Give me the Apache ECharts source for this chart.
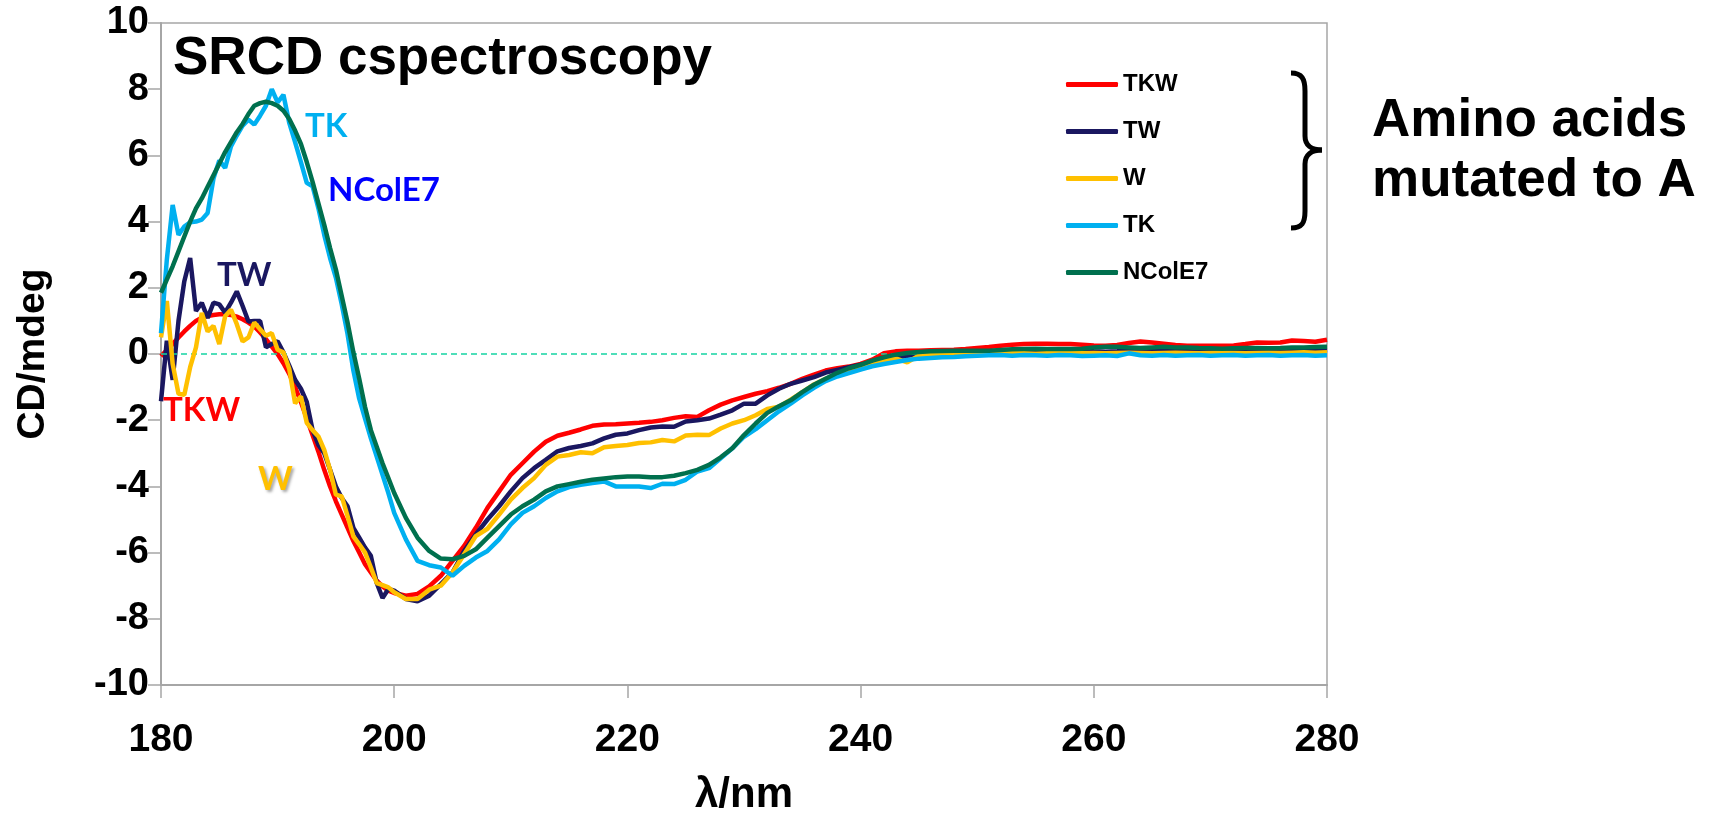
<!DOCTYPE html>
<html>
<head>
<meta charset="utf-8">
<script src="https://cdn.jsdelivr.net/npm/echarts@6/dist/echarts.min.js"></script>
<style>
html,body{margin:0;padding:0;background:#fff;}
#chart{width:1710px;height:813px;}
</style>
</head>
<body>
<div id="chart"></div>
<script>
// Wavelengths (nm): 0.5 nm steps 180-200, 1 nm steps 201-280
const wavelengths = [
  180,180.5,181,181.5,182,182.5,183,183.5,184,184.5,185,185.5,186,186.5,187,187.5,188,188.5,189,189.5,
  190,190.5,191,191.5,192,192.5,193,193.5,194,194.5,195,195.5,196,196.5,197,197.5,198,198.5,199,199.5,200,
  201,202,203,204,205,206,207,208,209,210,211,212,213,214,215,216,217,218,219,220,
  221,222,223,224,225,226,227,228,229,230,231,232,233,234,235,236,237,238,239,240,
  241,242,243,244,245,246,247,248,249,250,251,252,253,254,255,256,257,258,259,260,
  261,262,263,264,265,266,267,268,269,270,271,272,273,274,275,276,277,278,279,280
];

const seriesNames = ['TKW', 'TW', 'W', 'TK', 'NColE7'];

const tkwValues = [
  -0.07,0.12,0.3,0.5,0.68,0.85,1.0,1.1,1.15,1.18,1.2,1.2,1.18,1.13,1.05,0.95,0.83,0.65,0.45,0.22,
  0.0,-0.28,-0.6,-1.0,-1.45,-1.95,-2.45,-2.95,-3.5,-4.0,-4.45,-4.85,-5.25,-5.65,-6.0,-6.35,-6.6,-6.85,-7.02,-7.15,-7.22,
  -7.3,-7.25,-7.02,-6.7,-6.25,-5.8,-5.25,-4.65,-4.15,-3.65,
  -3.3,-2.95,-2.65,-2.47,-2.38,-2.28,-2.17,-2.13,-2.12,-2.1,
  -2.08,-2.05,-2.0,-1.93,-1.88,-1.9,-1.7,-1.53,-1.4,-1.3,
  -1.2,-1.12,-1.02,-0.9,-0.75,-0.62,-0.5,-0.43,-0.38,-0.3,
  -0.17,0.02,0.08,0.1,0.1,0.11,0.12,0.13,0.15,0.18,
  0.21,0.25,0.28,0.3,0.31,0.31,0.3,0.3,0.28,0.26,
  0.25,0.27,0.33,0.38,0.35,0.31,0.27,0.25,0.25,0.25,
  0.25,0.26,0.3,0.35,0.34,0.35,0.41,0.39,0.37,0.43
];

const twValues = [
  -1.43,0.4,-0.78,1.0,2.2,2.9,1.3,1.55,1.09,1.55,1.5,1.25,1.55,1.89,1.45,0.98,1.0,1.0,0.2,0.3,
  0.38,0.05,-0.35,-0.78,-1.05,-1.45,-2.3,-2.75,-3.0,-3.5,-4.0,-4.35,-4.6,-5.25,-5.55,-5.85,-6.1,-6.92,-7.37,-7.1,-7.15,
  -7.4,-7.47,-7.3,-6.95,-6.6,-5.95,-5.45,-5.0,-4.6,-4.15,
  -3.75,-3.45,-3.2,-2.94,-2.84,-2.78,-2.7,-2.55,-2.44,-2.4,
  -2.3,-2.22,-2.19,-2.2,-2.04,-2.0,-1.95,-1.83,-1.7,-1.5,
  -1.5,-1.25,-1.05,-0.9,-0.8,-0.7,-0.56,-0.48,-0.4,-0.32,
  -0.27,-0.2,-0.13,-0.05,0.0,0.02,0.05,0.06,0.06,0.07,
  0.07,0.08,0.08,0.1,0.09,0.08,0.08,0.09,0.1,0.08,
  0.07,0.08,0.1,0.12,0.1,0.09,0.08,0.1,0.1,0.09,
  0.08,0.09,0.1,0.11,0.1,0.1,0.12,0.11,0.1,0.12
];

const wValues = [
  0.5,1.6,-0.3,-1.2,-1.23,-0.4,0.2,1.24,0.68,0.85,0.3,1.14,1.34,0.9,0.38,0.5,0.95,0.75,0.55,0.63,
  0.13,0.05,-0.45,-1.49,-1.28,-2.08,-2.3,-2.49,-2.9,-3.5,-4.25,-4.3,-4.9,-5.51,-5.75,-6.0,-6.45,-6.92,-6.98,-7.05,-7.2,
  -7.4,-7.4,-7.12,-7.0,-6.6,-6.05,-5.5,-5.28,-4.85,-4.4,
  -4.05,-3.75,-3.35,-3.1,-3.05,-2.97,-3.0,-2.82,-2.78,-2.75,
  -2.69,-2.67,-2.6,-2.64,-2.46,-2.44,-2.45,-2.25,-2.1,-2.0,
  -1.85,-1.66,-1.59,-1.38,-1.15,-0.92,-0.75,-0.65,-0.55,-0.45,
  -0.33,-0.2,-0.13,-0.25,-0.05,-0.02,0.0,0.01,0.02,0.02,
  0.01,0.02,0.03,0.02,0.01,0.02,0.03,0.02,0.02,0.03,
  0.02,0.03,0.04,0.03,0.02,0.03,0.04,0.03,0.02,0.03,
  0.04,0.03,0.02,0.03,0.04,0.03,0.04,0.05,0.04,0.05
];

const tkValues = [
  0.63,2.85,4.5,3.6,3.85,3.98,4.0,4.06,4.26,5.3,5.85,5.62,6.27,6.6,6.9,7.08,6.93,7.2,7.5,8.0,
  7.6,7.83,6.98,6.4,5.8,5.17,5.07,4.4,3.6,2.9,2.3,1.5,0.6,-0.5,-1.35,-1.95,-2.55,-3.1,-3.65,-4.2,-4.8,
  -5.6,-6.25,-6.38,-6.45,-6.7,-6.4,-6.15,-5.95,-5.6,-5.15,
  -4.8,-4.6,-4.35,-4.15,-4.02,-3.95,-3.9,-3.85,-4.0,-4.0,
  -4.0,-4.05,-3.92,-3.93,-3.8,-3.55,-3.45,-3.15,-2.85,-2.5,
  -2.27,-2.0,-1.73,-1.5,-1.25,-1.02,-0.82,-0.68,-0.58,-0.47,
  -0.37,-0.3,-0.24,-0.18,-0.14,-0.12,-0.1,-0.09,-0.07,-0.05,
  -0.04,-0.03,-0.05,-0.03,-0.04,-0.05,-0.03,-0.04,-0.06,-0.05,
  -0.04,-0.06,0.02,-0.04,-0.05,-0.03,-0.05,-0.04,-0.03,-0.05,
  -0.04,-0.03,-0.05,-0.04,-0.03,-0.05,-0.04,-0.03,-0.05,-0.04
];

const ncole7Values = [
  1.85,2.25,2.65,3.1,3.55,4.0,4.4,4.7,5.05,5.4,5.75,6.1,6.4,6.7,6.95,7.25,7.5,7.58,7.62,7.58,
  7.5,7.35,7.1,6.75,6.35,5.8,5.2,4.55,3.9,3.2,2.55,1.75,0.95,0.05,-0.75,-1.6,-2.3,-2.8,-3.3,-3.75,-4.2,
  -4.95,-5.55,-5.95,-6.18,-6.2,-6.1,-5.9,-5.55,-5.2,-4.85,
  -4.6,-4.4,-4.15,-4.0,-3.93,-3.86,-3.8,-3.76,-3.72,-3.7,
  -3.7,-3.72,-3.72,-3.68,-3.6,-3.5,-3.35,-3.12,-2.85,-2.45,
  -2.1,-1.78,-1.58,-1.4,-1.15,-0.93,-0.75,-0.57,-0.43,-0.33,
  -0.2,-0.1,-0.02,0.03,0.06,0.08,0.09,0.1,0.1,0.1,
  0.1,0.12,0.14,0.15,0.16,0.15,0.15,0.15,0.16,0.2,
  0.22,0.22,0.2,0.18,0.2,0.22,0.2,0.2,0.18,0.17,
  0.16,0.17,0.18,0.18,0.17,0.18,0.2,0.2,0.21,0.22
];

const xTicks = { min: 180, max: 280, interval: 20 };
const yTicks = { min: -10, max: 10, interval: 2 };

const colors = ['#FF0000', '#1A1760', '#FFC000', '#00B0F0', '#00704E'];
const allValues = [tkwValues, twValues, wValues, tkValues, ncole7Values];

const chart = echarts.init(document.getElementById('chart'), null, { renderer: 'canvas' });

const series = seriesNames.map((name, i) => ({
  name: name,
  type: 'line',
  data: wavelengths.map((x, j) => [x, allValues[i][j]]),
  symbol: 'none',
  smooth: false,
  lineStyle: { color: colors[i], width: 4.5 },
  itemStyle: { color: colors[i] },
  z: 3 + i
}));

series.push({
  name: 'zero',
  type: 'line',
  data: [],
  symbol: 'none',
  markLine: {
    silent: true,
    symbol: 'none',
    label: { show: false },
    lineStyle: { color: '#16D3A2', width: 1.5, type: [6, 4] },
    data: [{ yAxis: 0 }]
  },
  z: 2
});

const axisGray = '#A6A6A6';
const labelFont = 'Liberation Sans, Arial, sans-serif';
const annFont = 'Lato, Calibri, sans-serif';
const braceStyle = { stroke: '#000', lineWidth: 5, fill: 'none' };

chart.setOption({
  animation: false,
  backgroundColor: '#ffffff',
  grid: {
    left: 161, top: 23, right: 383, bottom: 128,
    outerBoundsMode: 'none',
    containLabel: false,
    show: true, borderColor: axisGray, borderWidth: 1.5, backgroundColor: 'transparent'
  },
  xAxis: {
    type: 'value',
    min: xTicks.min, max: xTicks.max, interval: xTicks.interval,
    name: 'λ/nm',
    nameLocation: 'middle',
    nameGap: 110,
    nameTextStyle: { fontFamily: labelFont, fontWeight: 'bold', fontSize: 42, color: '#000', verticalAlign: 'middle' },
    axisLine: { show: true, onZero: false, lineStyle: { color: axisGray, width: 2 } },
    axisTick: { show: true, inside: false, length: 13, lineStyle: { color: axisGray, width: 1.5 } },
    splitLine: { show: false },
    axisLabel: { fontFamily: labelFont, fontWeight: 'bold', fontSize: 39, color: '#000', margin: 36 }
  },
  yAxis: {
    type: 'value',
    min: yTicks.min, max: yTicks.max, interval: yTicks.interval,
    name: 'CD/mdeg',
    nameLocation: 'middle',
    nameRotate: 90,
    nameGap: 128,
    nameTextStyle: { fontFamily: labelFont, fontWeight: 'bold', fontSize: 39, color: '#000', verticalAlign: 'middle' },
    axisLine: { show: true, onZero: false, lineStyle: { color: axisGray, width: 2 } },
    axisTick: { show: true, inside: false, length: 13, lineStyle: { color: axisGray, width: 1.5 } },
    splitLine: { show: false },
    axisLabel: { fontFamily: labelFont, fontWeight: 'bold', fontSize: 38, color: '#000', margin: 12 }
  },
  legend: {
    data: seriesNames,
    orient: 'vertical',
    left: 1061,
    top: 67,
    itemWidth: 52,
    itemHeight: 5,
    itemGap: 22,
    icon: 'roundRect',
    textStyle: { fontFamily: labelFont, fontWeight: 'bold', fontSize: 24, color: '#000', lineHeight: 25 },
    selectedMode: false
  },
  graphic: [
    { type: 'text', x: 173, y: 59, z: 100,
      style: { text: 'SRCD cspectroscopy', font: 'bold 53px ' + labelFont, fill: '#000', verticalAlign: 'middle' } },
    { type: 'text', x: 1372, y: 121, z: 100,
      style: { text: 'Amino acids', font: 'bold 53px ' + labelFont, fill: '#000', verticalAlign: 'middle' } },
    { type: 'text', x: 1372, y: 181, z: 100,
      style: { text: 'mutated to A', font: 'bold 53px ' + labelFont, fill: '#000', verticalAlign: 'middle' } },
    { type: 'bezierCurve', z: 100, shape: { x1: 1291, y1: 73, cpx1: 1302, cpy1: 73, cpx2: 1305, cpy2: 79, x2: 1305, y2: 91 }, style: braceStyle },
    { type: 'line', z: 100, shape: { x1: 1305, y1: 91, x2: 1305, y2: 136 }, style: braceStyle },
    { type: 'bezierCurve', z: 100, shape: { x1: 1305, y1: 136, cpx1: 1305, cpy1: 145, cpx2: 1311, cpy2: 150, x2: 1322, y2: 150 }, style: braceStyle },
    { type: 'bezierCurve', z: 100, shape: { x1: 1322, y1: 150, cpx1: 1311, cpy1: 150, cpx2: 1305, cpy2: 155, x2: 1305, y2: 164 }, style: braceStyle },
    { type: 'line', z: 100, shape: { x1: 1305, y1: 164, x2: 1305, y2: 211 }, style: braceStyle },
    { type: 'bezierCurve', z: 100, shape: { x1: 1305, y1: 211, cpx1: 1305, cpy1: 223, cpx2: 1302, cpy2: 228, x2: 1291, y2: 228 }, style: braceStyle },
    { type: 'text', x: 305, y: 126, z: 100,
      style: { text: 'TK', font: 'bold 33px ' + annFont, fill: '#00B0F0', verticalAlign: 'middle' } },
    { type: 'text', x: 328, y: 190, z: 100,
      style: { text: 'NColE7', font: 'bold 33px ' + annFont, fill: '#0000FF', verticalAlign: 'middle' } },
    { type: 'text', x: 217, y: 275, z: 100,
      style: { text: 'TW', font: 'bold 33px ' + annFont, fill: '#1A1760', verticalAlign: 'middle' } },
    { type: 'text', x: 163, y: 410, z: 100,
      style: { text: 'TKW', font: 'bold 33px ' + annFont, fill: '#FF0000', verticalAlign: 'middle' } },
    { type: 'text', x: 258, y: 479, z: 100,
      style: { text: 'W', font: 'bold 33px ' + annFont, fill: '#FFC000', verticalAlign: 'middle',
               textShadowColor: 'rgba(0,0,0,0.35)', textShadowBlur: 3, textShadowOffsetX: 2, textShadowOffsetY: 2 } }
  ],
  series: series
});
</script>
</body>
</html>
